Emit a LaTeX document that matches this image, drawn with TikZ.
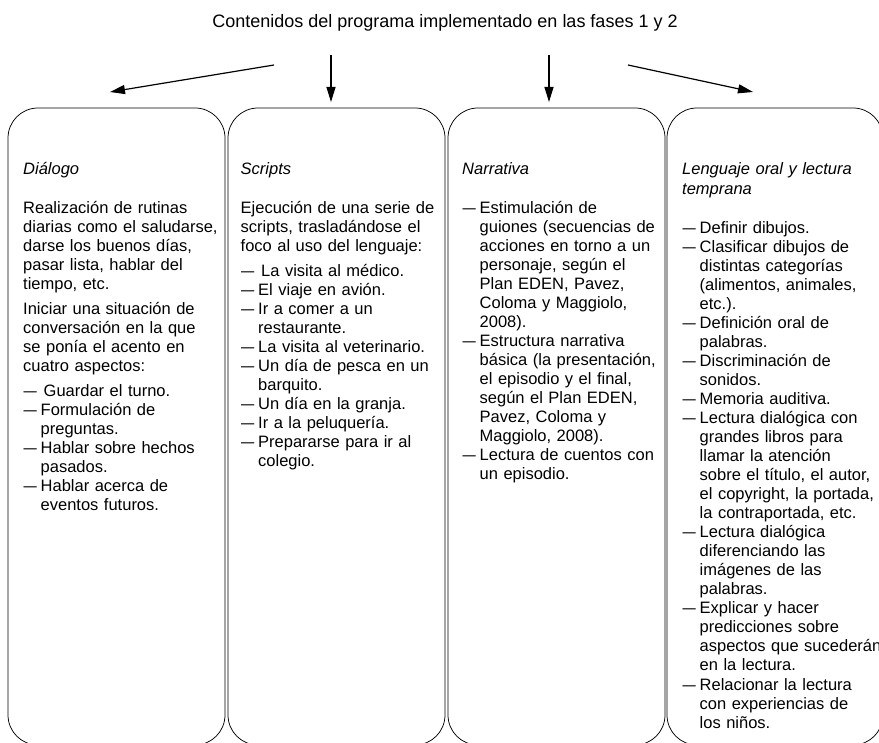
\documentclass[tikz,border=0pt]{standalone}
\usepackage{fontspec}
\setmainfont{Liberation Sans}
\usetikzlibrary{arrows.meta}

% text sizes
\newcommand\bodyfont{\fontsize{16.5pt}{19.04pt}\selectfont}
\newcommand\titlefont{\fontsize{18pt}{22pt}\selectfont}
% line break that keeps the paragraph (and its hanging indent) going
\newcommand\nl{\hfil\break}
% list entry with a dash and hanging indent
\newcommand\itm{\par\hangindent=17.5pt\hangafter=1\noindent\makebox[17.5pt][l]{\hspace{0.5pt}\scalebox{0.8}[1]{—}}}
\newcommand\gap{\par\vspace{6pt}}

\tikzset{
  colbox/.style={draw, line width=0.75pt, rounded corners=30pt,
    minimum width=217pt, minimum height=637pt, anchor=north west,
    inner sep=0pt, outer sep=0pt},
  coltext/.style={anchor=base west, inner sep=0pt, text width=240pt,
    font=\bodyfont},
  arr/.style={line width=1.2pt, -{Triangle[length=15pt,width=9pt]}},
}

\begin{document}
\begin{tikzpicture}[x=1pt,y=-1pt]
\useasboundingbox (0,0) rectangle (879,743);

\node[font=\titlefont, anchor=base, inner sep=0pt] (title) at (445,28)
  {Contenidos del programa implementado en las fases 1 y 2};

% the four columns
\node[colbox] (b1) at (8,108) {};
\node[colbox] (b2) at (228,108) {};
\node[colbox] (b3) at (448,108) {};
\node[colbox, minimum width=216pt] (b4) at (667,108) {};

% arrows from the title to the columns
\coordinate (s1) at (274,65);  \coordinate (e1) at (110,92);
\coordinate (s2) at (331,55);  \coordinate (e2) at (331,102);
\coordinate (s3) at (549,55);  \coordinate (e3) at (549,102);
\coordinate (s4) at (628,65);  \coordinate (e4) at (753,92);
\draw[arr] (s1) -- (e1);
\draw[arr] (s2) -- (e2);
\draw[arr] (s3) -- (e3);
\draw[arr] (s4) -- (e4);

\node[coltext] (t1) at (23,175) {\raggedright
{\itshape Diálogo}\par\vspace{19.04pt}
\noindent Realización de rutinas\nl diarias como el saludarse,\nl darse los buenos días,\nl
pasar lista, hablar del\nl tiempo, etc.\gap
\noindent Iniciar una situación de\nl conversación en la que\nl se ponía el acento en\nl
cuatro aspectos:\gap
\itm\hspace{3pt}Guardar el turno.
\itm Formulación de\nl preguntas.
\itm Hablar sobre hechos\nl pasados.
\itm Hablar acerca de\nl eventos futuros.\par};

\node[coltext] (t2) at (240.5,175) {\raggedright
{\itshape Scripts}\par\vspace{19.04pt}
\noindent Ejecución de una serie de\nl scripts, trasladándose el\nl foco al uso del lenguaje:\gap
\itm\hspace{3pt}La visita al médico.
\itm El viaje en avión.
\itm Ir a comer a un\nl restaurante.
\itm La visita al veterinario.
\itm Un día de pesca en un\nl barquito.
\itm Un día en la granja.
\itm Ir a la peluquería.
\itm Prepararse para ir al\nl colegio.\par};

\node[coltext] (t3) at (462,175) {\raggedright
{\itshape Narrativa}\par\vspace{19.04pt}
\itm Estimulación de\nl guiones (secuencias de\nl acciones en torno a un\nl
personaje, según el\nl Plan EDEN, Pavez,\nl Coloma y Maggiolo,\nl 2008).
\itm Estructura narrativa\nl básica (la presentación,\nl el episodio y el final,\nl
según el Plan EDEN,\nl Pavez, Coloma y\nl Maggiolo, 2008).
\itm Lectura de cuentos con\nl un episodio.\par};

\node[coltext] (t4) at (682,175) {\raggedright
\noindent{\itshape Lenguaje oral y lectura\nl temprana}\par\vspace{20pt}
\itm Definir dibujos.
\itm Clasificar dibujos de\nl distintas categorías\nl (alimentos, animales,\nl etc.).
\itm Definición oral de\nl palabras.
\itm Discriminación de\nl sonidos.
\itm Memoria auditiva.
\itm Lectura dialógica con\nl grandes libros para\nl llamar la atención\nl
sobre el título, el autor,\nl el copyright, la portada,\nl la contraportada, etc.
\itm Lectura dialógica\nl diferenciando las\nl imágenes de las\nl palabras.
\itm Explicar y hacer\nl predicciones sobre\nl aspectos que sucederán\nl en la lectura.
\itm Relacionar la lectura\nl con experiencias de\nl los niños.\par};
\end{tikzpicture}
\end{document}
